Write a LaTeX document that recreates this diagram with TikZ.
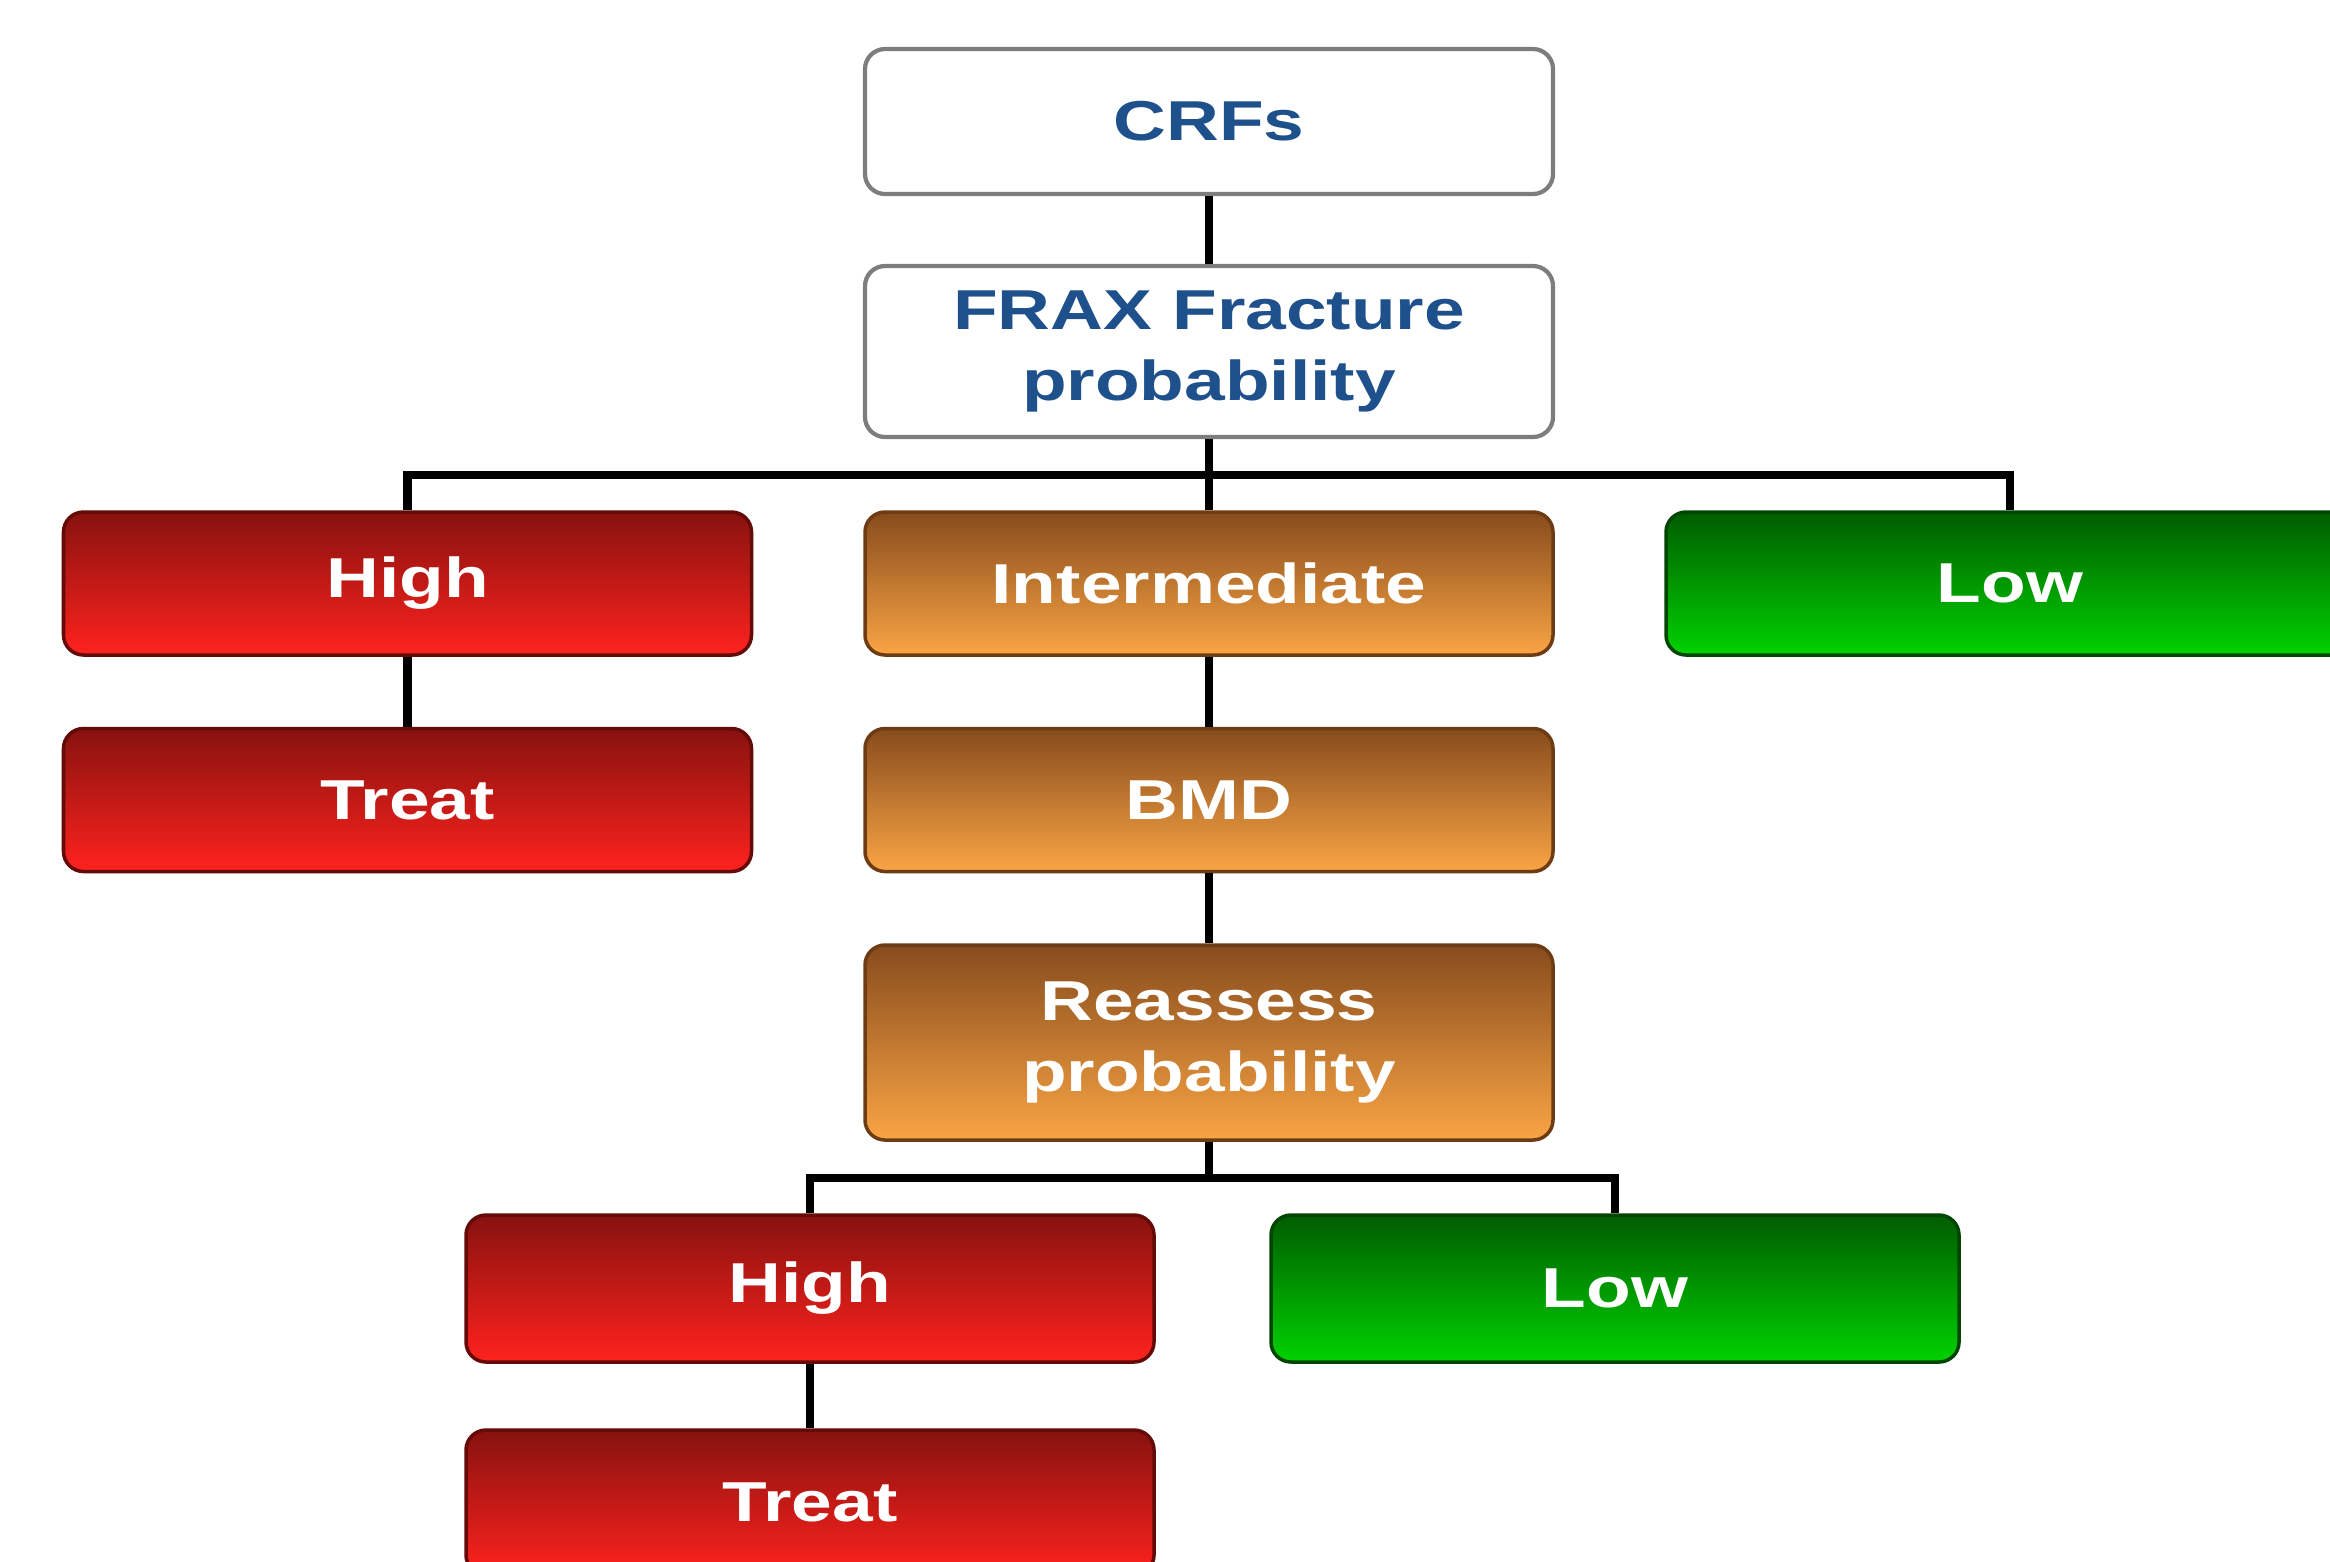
\documentclass[tikz,border=0pt]{standalone}
\usepackage{fontspec}
\setmainfont{Liberation Sans}[FakeStretch=1.3]
\definecolor{txtblue}{RGB}{30,80,140}
\definecolor{redtop}{RGB}{135,18,14}
\definecolor{redbot}{RGB}{255,34,30}
\definecolor{redline}{RGB}{100,10,8}
\definecolor{ortop}{RGB}{135,75,28}
\definecolor{orbot}{RGB}{250,165,68}
\definecolor{orline}{RGB}{110,60,20}
\definecolor{grtop}{RGB}{0,92,0}
\definecolor{grbot}{RGB}{0,210,0}
\definecolor{grline}{RGB}{0,70,0}
\definecolor{boxgray}{RGB}{125,125,125}
\tikzset{
  basebox/.style={rounded corners=0.2cm, minimum width=6.88cm, minimum height=1.43cm,
    inner sep=0pt, align=center, font=\fontsize{16}{20}\selectfont\bfseries},
  whitebox/.style={basebox, draw=boxgray, line width=1.2pt, fill=white, text=txtblue},
  redbox/.style={basebox, draw=redline, line width=1pt, top color=redtop, bottom color=redbot, text=white},
  orbox/.style={basebox, draw=orline, line width=1pt, top color=ortop, bottom color=orbot, text=white},
  grbox/.style={basebox, draw=grline, line width=1pt, top color=grtop, bottom color=grbot, text=white},
  link/.style={draw=black, line width=2.4pt}
}
\begin{document}
\begin{tikzpicture}
\useasboundingbox (0,0) rectangle (23.3,-15.61);
\coordinate (bus1) at (12.09,-4.75);
\coordinate (bus2) at (12.09,-11.78);
\node[whitebox, minimum height=1.45cm] (crf) at (12.09,-1.215) {CRFs};
\node[whitebox, minimum height=1.71cm] (frax) at (12.09,-3.515) {FRAX Fracture\\probability};
\node[redbox] (high1) at (4.075,-5.835) {High};
\node[orbox] (inter) at (12.09,-5.835) {Intermediate};
\node[grbox] (low1) at (20.10,-5.835) {Low};
\node[redbox] (treat1) at (4.075,-8.0) {Treat};
\node[orbox] (bmd) at (12.09,-8.0) {BMD};
\node[orbox, minimum height=1.95cm] (reassess) at (12.09,-10.425) {Reassess\\probability};
\node[redbox, minimum height=1.47cm] (high2) at (8.10,-12.885) {High};
\node[grbox, minimum height=1.47cm] (low2) at (16.15,-12.885) {Low};
\node[redbox, minimum height=1.45cm] (treat2) at (8.10,-15.025) {Treat};
\draw[link] (crf.south) -- (frax.north);
\draw[link] (frax.south) -- (inter.north);
\draw[link] (high1.north) |- (bus1) -| (low1.north);
\draw[link] (high1.south) -- (treat1.north);
\draw[link] (inter.south) -- (bmd.north);
\draw[link] (bmd.south) -- (reassess.north);
\draw[link] (reassess.south) -- (bus2);
\draw[link] (high2.north) |- (bus2) -| (low2.north);
\draw[link] (high2.south) -- (treat2.north);
\end{tikzpicture}
\end{document}
